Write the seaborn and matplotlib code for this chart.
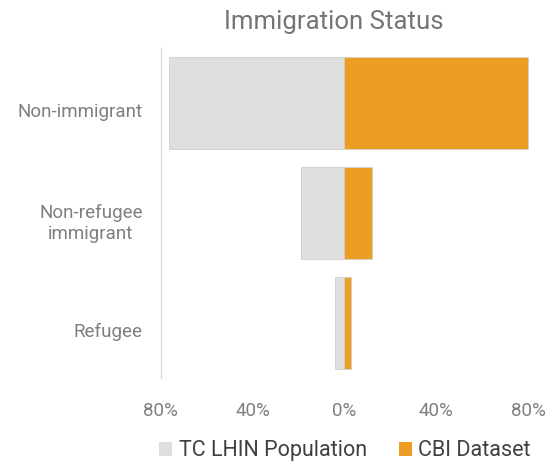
import matplotlib
matplotlib.use("Agg")
import matplotlib.pyplot as plt
import matplotlib.transforms as mtransforms
from matplotlib.patches import Patch
import seaborn as sns
import pandas as pd

categories = ["Non-immigrant", "Non-refugee\nimmigrant", "Refugee"]
tc_lhin_population = [76.5, 19, 4]
cbi_dataset = [80, 12, 3]
tick_values = [-80, -40, 0, 40, 80]
tick_labels = ["80%", "40%", "0%", "40%", "80%"]
series_names = ["TC LHIN Population", "CBI Dataset"]

GRAY = "#E0DFE0"
ORANGE = "#EC9D24"
TEXT = "#7F7F7F"

sns.set_theme(style="white")
plt.rcParams["font.family"] = ["Roboto", "DejaVu Sans"]

df = pd.DataFrame({
    "category": categories * 2,
    "value": [-v for v in tc_lhin_population] + cbi_dataset,
    "source": [series_names[0]] * 3 + [series_names[1]] * 3,
})

fig = plt.figure(figsize=(5.46, 4.62), dpi=100)
ax = fig.add_axes([0.2943, 0.182, 0.694, 0.714])

sns.barplot(data=df, y="category", x="value", hue="source", orient="h",
            dodge=False, width=0.83, palette=[GRAY, ORANGE], saturation=1,
            edgecolor="#D0D0D0", linewidth=0.6, legend=False, ax=ax)

ax.set_xlim(-80, 85)
ax.set_ylim(2.5, -0.5)
ax.set_xticks(tick_values)
ax.set_xticklabels(tick_labels)
ax.set_xlabel("")
ax.set_ylabel("")
ax.tick_params(axis="x", length=0, pad=17, labelsize=13.5, labelcolor=TEXT)
ax.tick_params(axis="y", length=0, pad=13, labelsize=13.5, labelcolor=TEXT)
shift_down = mtransforms.ScaledTranslation(0, -5 / 72, fig.dpi_scale_trans)
for lbl in ax.get_yticklabels():
    lbl.set_horizontalalignment("right")
    lbl.set_multialignment("center")
    lbl.set_linespacing(1.25)
    lbl.set_transform(lbl.get_transform() + shift_down)

for side in ["top", "right", "bottom"]:
    ax.spines[side].set_visible(False)
ax.spines["left"].set_color("#D9D9D9")
ax.spines["left"].set_linewidth(1.0)

fig.text(0.612, 0.952, "Immigration Status", ha="center", va="center",
         fontsize=18.5, color="#757575")

handles = [Patch(facecolor=GRAY, edgecolor="none"),
           Patch(facecolor=ORANGE, edgecolor="none")]
fig.legend(handles, series_names, loc="center", bbox_to_anchor=(0.632, 0.024),
           ncol=2, frameon=False, fontsize=15.5, handlelength=0.6,
           handleheight=0.6, handletextpad=0.3, columnspacing=1.5,
           labelcolor="#404040")

fig.savefig("out.png", dpi=100)
